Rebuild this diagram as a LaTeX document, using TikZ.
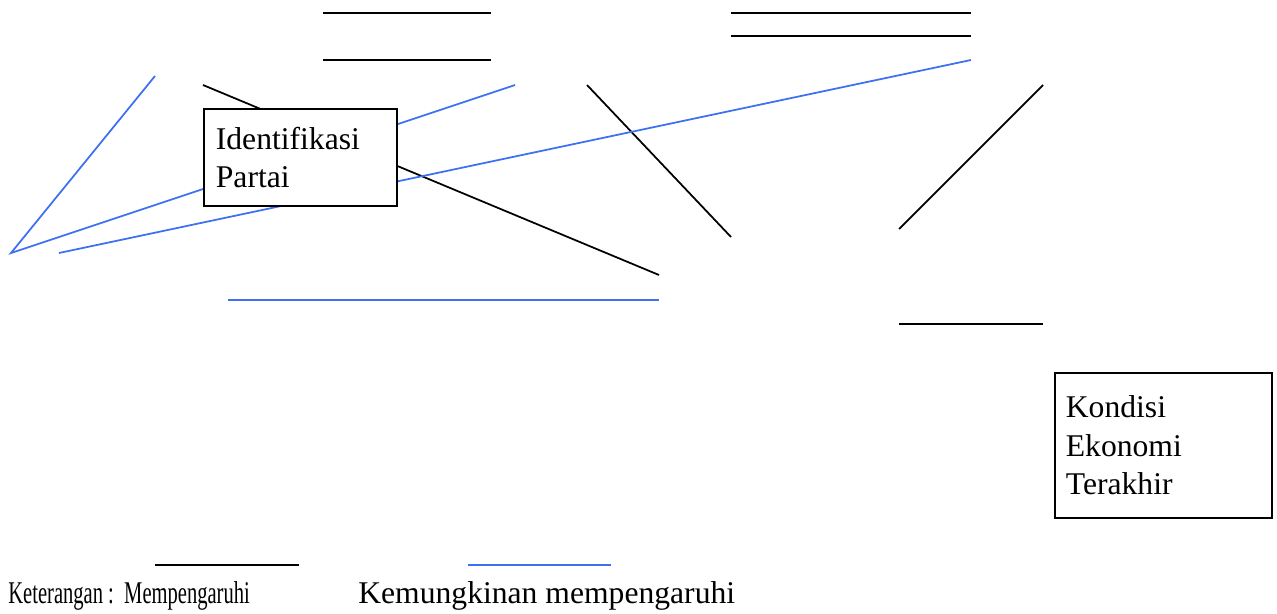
\documentclass[tikz,border=0pt]{standalone}
\usepackage{fontspec}
\setmainfont{Liberation Serif}
\usepackage{tikz}

\definecolor{maybeblue}{RGB}{62,112,242}

\begin{document}
\begin{tikzpicture}[x=0.02cm, y=-0.02cm, font=\fontsize{18}{22}\selectfont,
    box/.style={draw, rectangle, fill=white, line width=1pt, anchor=north west, align=left, inner ysep=0pt},
    n/.style={line width=1pt, black},
    m/.style={line width=1pt, maybeblue},
    legend/.style={anchor=base west, inner sep=0pt}]
                \useasboundingbox (0,0) rectangle (1277,613);
                % end points
                \coordinate (t1a) at (323,13);   \coordinate (t1b) at (491,13);
                \coordinate (t2a) at (323,60);   \coordinate (t2b) at (491,60);
                \coordinate (t3a) at (731,13);   \coordinate (t3b) at (971,13);
                \coordinate (t4a) at (731,36);   \coordinate (t4b) at (971,36);
                \coordinate (p) at (203,85);     \coordinate (q) at (659,275);
                \coordinate (r) at (587,85);     \coordinate (s) at (731,237);
                \coordinate (u) at (1043,85);    \coordinate (v) at (899,229);
                \coordinate (w1) at (899,324);   \coordinate (w2) at (1043,324);
                \coordinate (apex) at (11,253);  \coordinate (top) at (155,76);
                \coordinate (mid) at (515,85);
                \coordinate (low) at (59,253);   \coordinate (far) at (971,60);
                \coordinate (h1) at (228,300);   \coordinate (h2) at (659,300);
                \coordinate (kn1) at (155,565);  \coordinate (kn2) at (299,565);
                \coordinate (kb1) at (468,565);  \coordinate (kb2) at (611,565);
                % edges
                \draw [n] (t1a) -- (t1b);
                \draw [n] (t2a) -- (t2b);
                \draw [n] (t3a) -- (t3b);
                \draw [n] (t4a) -- (t4b);
                \draw [n] (p) -- (q);
                \draw [n] (r) -- (s);
                \draw [n] (u) -- (v);
                \draw [n] (w1) -- (w2);
                \draw [m] (top) -- (apex) -- (mid);
                \draw [m] (low) -- (far);
                \draw [m] (h1) -- (h2);
                % nodes
                \node[box, minimum width=3.86cm, minimum height=1.94cm, text width=3.38cm, inner xsep=0.24cm] (partai) at (203,108) {Identifikasi\\Partai};
                \node[box, minimum width=4.34cm, minimum height=2.9cm, text width=3.9cm, inner xsep=0.22cm] (ekonomi) at (1054,372) {Kondisi\\Ekonomi\\Terakhir};
                % keterangan
                \draw [n] (kn1) -- (kn2);
                \draw [m] (kb1) -- (kb2);
                \node[legend] (ket) at (8,603) {\scalebox{0.65}[1]{Keterangan :\ \ Mempengaruhi}};
                \node[legend] (ket2) at (358,603) {Kemungkinan mempengaruhi};
            \end{tikzpicture}
\end{document}
